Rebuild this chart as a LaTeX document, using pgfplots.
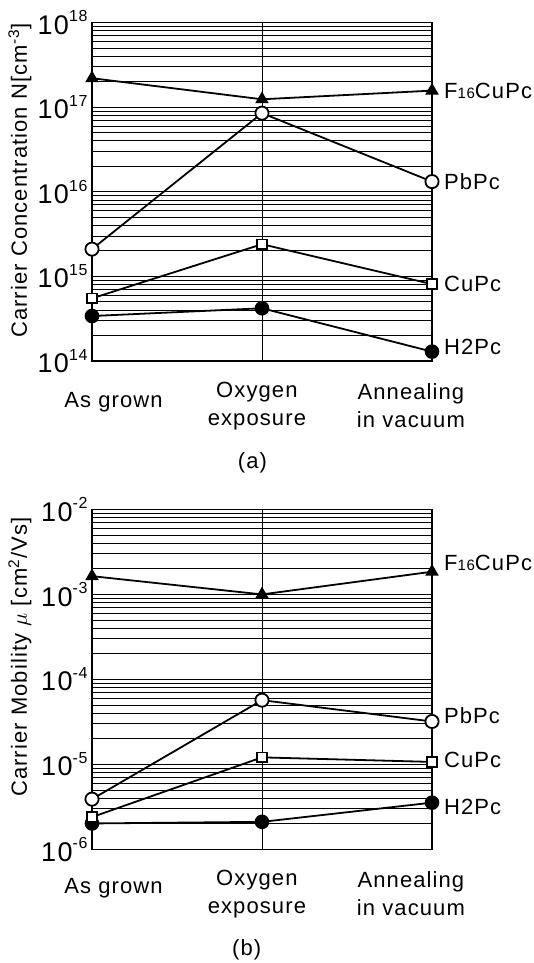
\documentclass[border=0pt]{standalone}
\usepackage{fontspec}
\setmainfont{Liberation Sans}[LetterSpace=5]
\usepackage{pgfplots}
\pgfplotsset{compat=1.18}

% decade exponent for the tick labels
\newcommand\dec[1]{10\raisebox{6.2pt}{\fontsize{8}{9}\selectfont #1}}

\tikzset{
  catlab/.style={font=\fontsize{11}{14}\selectfont, align=center, anchor=center},
  serlab/.style={font=\fontsize{11}{13}\selectfont, anchor=west, xshift=2.5pt},
}
\pgfplotsset{
  f16/.style={black, line width=0.9pt, mark=triangle*, mark size=3pt, mark options={fill=black}},
  pb/.style={black, line width=0.9pt, mark=*, mark size=3.3pt, mark options={fill=white}},
  cu/.style={black, line width=0.9pt, mark=square*, mark size=2.4pt, mark options={fill=white}},
  h2/.style={black, line width=0.9pt, mark=*, mark size=3.2pt, mark options={fill=black}},
}

\begin{document}
\begin{tikzpicture}
% (a) carrier concentration
\begin{axis}[scale only axis, width=170pt, height=169.2pt,
  at={(0pt,0pt)}, anchor=south west,
  xmin=0, xmax=2, ymode=log,
  xtick={0,1,2}, xticklabels={},
  xmajorgrids, ymajorgrids, yminorgrids,
  major tick length=0pt, minor tick length=0pt,
  axis line style={line width=0.8pt},
  major grid style={black, line width=0.45pt},
  minor grid style={black, line width=0.45pt},
  clip=false,
  yticklabel style={font=\fontsize{13.5}{15}\selectfont, inner sep=2pt},
  ymin=1e14, ymax=1e18,
  ytick={1e14,1e15,1e16,1e17,1e18},
  yticklabels={\dec{14},\dec{15},\dec{16},\dec{17},\dec{18}},
  minor ytick={2e14,3e14,4e14,5e14,6e14,7e14,8e14,9e14,
               2e15,3e15,4e15,5e15,6e15,7e15,8e15,9e15,
               2e16,3e16,4e16,5e16,6e16,7e16,8e16,9e16,
               2e17,3e17,4e17,5e17,6e17,7e17,8e17,9e17},
  ylabel={Carrier Concentration N[cm\textsuperscript{-3}]},
  y label style={at={(axis description cs:-0.212,0.533)}, anchor=center,
    rotate=0, font=\fontsize{11}{13}\selectfont},
]
\addplot[h2] coordinates {(0,3.4e14) (1,4.2e14) (2,1.29e14)};
\addplot[cu] coordinates {(0,5.5e14) (1,2.4e15) (2,8.1e14)};
\addplot[pb] coordinates {(0,2.1e15) (1,8.5e16) (2,1.32e16)};
\addplot[f16] coordinates {(0,2.2e17) (1,1.24e17) (2,1.57e17)};
\node[serlab] at (axis cs:2,1.57e17) {F{\fontsize{7.5}{9}\selectfont 16}CuPc};
\node[serlab] at (axis cs:2,1.32e16) {PbPc};
\node[serlab] at (axis cs:2,8.1e14) {CuPc};
\node[serlab] at (axis cs:2,1.48e14) {H2Pc};
\node[catlab] at (axis description cs:0.0635,-0.121) {As grown};
\node[catlab] at (axis description cs:0.485,-0.133) {Oxygen\\exposure};
\node[catlab] at (axis description cs:0.938,-0.133) {Annealing\\in vacuum};
\node[catlab] at (axis description cs:0.472,-0.300) {(a)};
\end{axis}

% (b) carrier mobility
\begin{axis}[scale only axis, width=170pt, height=170pt,
  at={(0pt,-244.2pt)}, anchor=south west,
  xmin=0, xmax=2, ymode=log,
  xtick={0,1,2}, xticklabels={},
  xmajorgrids, ymajorgrids, yminorgrids,
  major tick length=0pt, minor tick length=0pt,
  axis line style={line width=0.8pt},
  major grid style={black, line width=0.45pt},
  minor grid style={black, line width=0.45pt},
  clip=false,
  yticklabel style={font=\fontsize{13.5}{15}\selectfont, inner sep=2pt},
  ymin=1e-6, ymax=1e-2,
  ytick={1e-6,1e-5,1e-4,1e-3,1e-2},
  yticklabels={\dec{-6},\dec{-5},\dec{-4},\dec{-3},\dec{-2}},
  minor ytick={2e-6,3e-6,4e-6,5e-6,6e-6,7e-6,8e-6,9e-6,
               2e-5,3e-5,4e-5,5e-5,6e-5,7e-5,8e-5,9e-5,
               2e-4,3e-4,4e-4,5e-4,6e-4,7e-4,8e-4,9e-4,
               2e-3,3e-3,4e-3,5e-3,6e-3,7e-3,8e-3,9e-3},
  ylabel={Carrier Mobility $\mu$ [cm\textsuperscript{2}/Vs]},
  y label style={at={(axis description cs:-0.212,0.565)}, anchor=center,
    rotate=0, font=\fontsize{11}{13}\selectfont},
]
\addplot[h2] coordinates {(0,2.02e-6) (1,2.11e-6) (2,3.55e-6)};
\addplot[cu] coordinates {(0,2.4e-6) (1,1.21e-5) (2,1.07e-5)};
\addplot[pb] coordinates {(0,3.9e-6) (1,5.7e-5) (2,3.2e-5)};
\addplot[f16] coordinates {(0,1.64e-3) (1,1.0e-3) (2,1.85e-3)};
\node[serlab] at (axis cs:2,2.34e-3) {F{\fontsize{7.5}{9}\selectfont 16}CuPc};
\node[serlab] at (axis cs:2,3.7e-5) {PbPc};
\node[serlab] at (axis cs:2,1.12e-5) {CuPc};
\node[serlab] at (axis cs:2,3.16e-6) {H2Pc};
\node[catlab] at (axis description cs:0.0635,-0.115) {As grown};
\node[catlab] at (axis description cs:0.485,-0.131) {Oxygen\\exposure};
\node[catlab] at (axis description cs:0.938,-0.131) {Annealing\\in vacuum};
\node[catlab] at (axis description cs:0.455,-0.296) {(b)};
\end{axis}

\pgfresetboundingbox
\path[use as bounding box] (-46pt,-301pt) rectangle (221pt,180.5pt);
\end{tikzpicture}
\end{document}
